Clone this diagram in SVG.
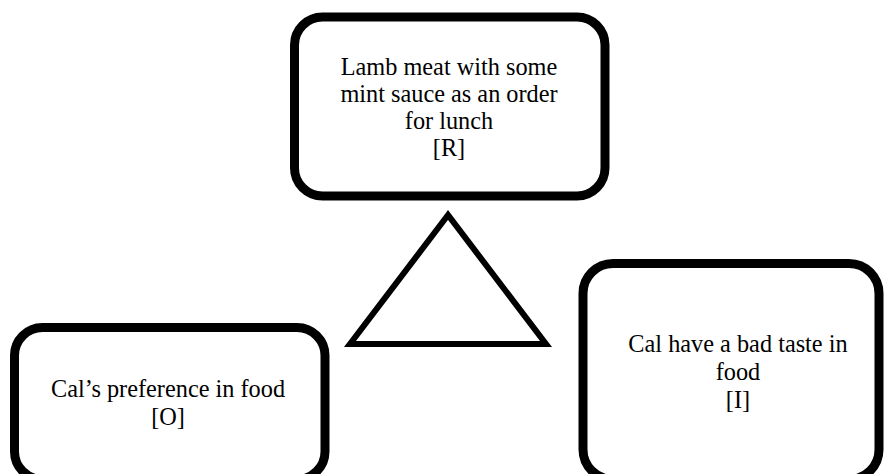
<svg xmlns="http://www.w3.org/2000/svg" width="885" height="474" viewBox="0 0 885 474">
  <style>
    .box { fill: #ffffff; stroke: #000000; stroke-width: 9; }
    .tri { fill: #ffffff; stroke: #000000; stroke-width: 6; stroke-linejoin: miter; }
    .label { font-family: "Liberation Serif", "Times New Roman", serif; font-size: 24.3px; fill: #000000; text-anchor: middle; }
  </style>
  <rect x="0" y="0" width="885" height="474" fill="#ffffff"/>

  <g id="connectors">
    <polygon class="tri" points="448,215 350,344 546,344"/>
  </g>

  <g id="node-R">
    <rect class="box" x="294.5" y="17" width="310.5" height="179" rx="28" ry="28"/>
    <text class="label" x="449" y="75">Lamb meat with some</text>
    <text class="label" x="449" y="102">mint sauce as an order</text>
    <text class="label" x="449" y="129">for lunch</text>
    <text class="label" x="449" y="156">[R]</text>
  </g>

  <g id="node-O">
    <rect class="box" x="14.5" y="327.5" width="310.5" height="152" rx="28" ry="28"/>
    <text class="label" x="168" y="397">Cal’s preference in food</text>
    <text class="label" x="168" y="425">[O]</text>
  </g>

  <g id="node-I">
    <rect class="box" x="583" y="263.5" width="296" height="216" rx="30" ry="30"/>
    <text class="label" x="738" y="352">Cal have a bad taste in</text>
    <text class="label" x="738" y="380">food</text>
    <text class="label" x="738" y="408">[I]</text>
  </g>
</svg>
